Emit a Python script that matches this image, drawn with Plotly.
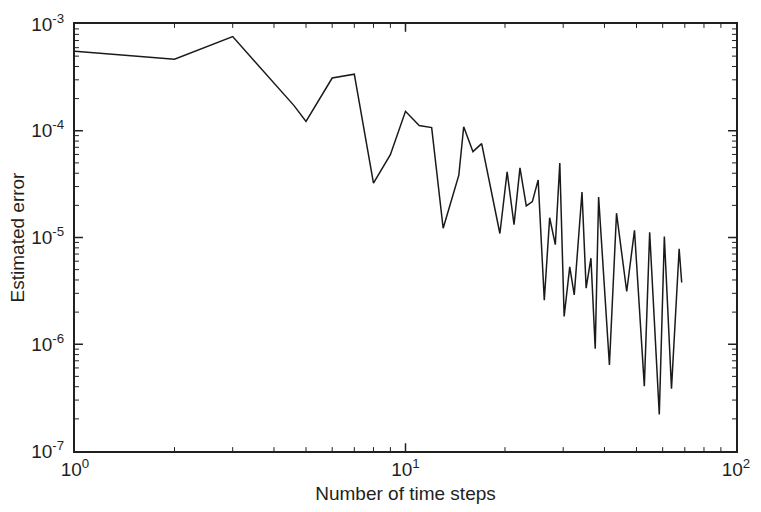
import math
import plotly.graph_objects as go

# Number of time steps
steps = [1, 2, 3, 4.6, 5, 6, 7, 8, 9, 10, 11, 12, 13, 14.5, 15, 16, 17,
         19.3, 20.3, 21.3, 22.2, 23.2, 24.2, 25.2, 26.3, 27.3, 28.4, 29.3,
         30.2, 31.4, 32.4, 34.2, 35.2, 36.4, 37.5, 38.4, 41.4, 43.5, 46.7,
         49.3, 52.8, 54.8, 58.6, 60.7, 63.8, 67.3, 68.5]

# Estimated error
error = [5.56e-4, 4.68e-4, 7.62e-4, 1.72e-4, 1.225e-4, 3.12e-4, 3.39e-4,
         3.23e-5, 5.96e-5, 1.52e-4, 1.12e-4, 1.07e-4, 1.22e-5, 3.84e-5,
         1.09e-4, 6.37e-5, 7.57e-5, 1.09e-5, 4.12e-5, 1.32e-5, 4.49e-5,
         1.98e-5, 2.17e-5, 3.46e-5, 2.58e-6, 1.53e-5, 8.58e-6, 4.99e-5,
         1.82e-6, 5.30e-6, 2.90e-6, 2.66e-5, 3.35e-6, 6.40e-6, 9.10e-7,
         2.39e-5, 6.40e-7, 1.69e-5, 3.12e-6, 1.17e-5, 4.05e-7, 1.12e-5,
         2.20e-7, 1.02e-5, 3.84e-7, 7.83e-6, 3.79e-6]

x_tickvals = [1, 10, 100]
x_ticktext = ["10<sup>0</sup>", "10<sup>1</sup>", "10<sup>2</sup>"]
y_tickvals = [1e-7, 1e-6, 1e-5, 1e-4, 1e-3]
y_ticktext = ["10<sup>-7</sup>&nbsp;", "10<sup>-6</sup>&nbsp;",
              "10<sup>-5</sup>&nbsp;", "10<sup>-4</sup>&nbsp;",
              "10<sup>-3</sup>&nbsp;"]

FONT = "Liberation Sans, Arial, sans-serif"
AX = "#231f20"
FS = 19

W, H = 761, 512
ML, MR, MT, MB = 75, 20, 11, 61
XR = [0, 2]      # log10 range of x
YR = [-7, -3]    # log10 range of y
px_per_dec_x = (W - ML - MR) / (XR[1] - XR[0])
px_per_dec_y = (H - MT - MB) / (YR[1] - YR[0])

fig = go.Figure()
fig.add_trace(go.Scatter(x=steps, y=error, mode="lines",
                         line=dict(color="#1a1a1a", width=1.5),
                         showlegend=False, hoverinfo="skip"))


# Tick marks (inside, on all four sides), drawn on hidden overlay axes
def tick_segments(x_logs, y_logs, length):
    xs, ys = [], []
    dx = length / px_per_dec_x
    dy = length / px_per_dec_y
    for lx in x_logs:
        xs += [lx, lx, None, lx, lx, None]
        ys += [YR[0], YR[0] + dy, None, YR[1], YR[1] - dy, None]
    for ly in y_logs:
        xs += [XR[0], XR[0] + dx, None, XR[1], XR[1] - dx, None]
        ys += [ly, ly, None, ly, ly, None]
    return xs, ys


major_x = [math.log10(v) for v in x_tickvals][1:-1]
major_y = [math.log10(v) for v in y_tickvals][1:-1]
minor_x = [math.log10(m * 10 ** e) for e in range(XR[0], XR[1])
           for m in range(2, 10)]
minor_y = [math.log10(m * 10.0 ** e) for e in range(YR[0], YR[1])
           for m in range(2, 10)]

mx, my = tick_segments(major_x, major_y, 8)
fig.add_trace(go.Scatter(x=mx, y=my, mode="lines", xaxis="x2", yaxis="y2",
                         line=dict(color=AX, width=1.5),
                         showlegend=False, hoverinfo="skip"))
nx, ny = tick_segments(minor_x, minor_y, 4)
fig.add_trace(go.Scatter(x=nx, y=ny, mode="lines", xaxis="x2", yaxis="y2",
                         line=dict(color=AX, width=1),
                         showlegend=False, hoverinfo="skip"))

common = dict(
    type="log",
    showgrid=False, zeroline=False,
    showline=True, linecolor=AX, linewidth=1.6, mirror=True,
    ticks="",
    tickfont=dict(family=FONT, size=FS, color="#231f20"),
    ticklabeloverflow="allow",
)

fig.update_layout(
    xaxis=dict(range=XR, tickmode="array", tickvals=x_tickvals,
               ticktext=x_ticktext,
               title=dict(text="Number of time steps", standoff=8,
                          font=dict(family=FONT, size=FS, color="#231f20")),
               **common),
    yaxis=dict(range=YR, tickmode="array", tickvals=y_tickvals,
               ticktext=y_ticktext,
               title=dict(text="Estimated error", standoff=2,
                          font=dict(family=FONT, size=FS, color="#231f20")),
               **common),
    xaxis2=dict(overlaying="x", range=XR, visible=False, type="linear"),
    yaxis2=dict(overlaying="y", range=YR, visible=False, type="linear"),
    width=W, height=H,
    margin=dict(l=ML, r=MR, t=MT, b=MB),
    paper_bgcolor="white", plot_bgcolor="white",
    font=dict(family=FONT, color="#231f20"),
)

fig.write_html("out.html")
